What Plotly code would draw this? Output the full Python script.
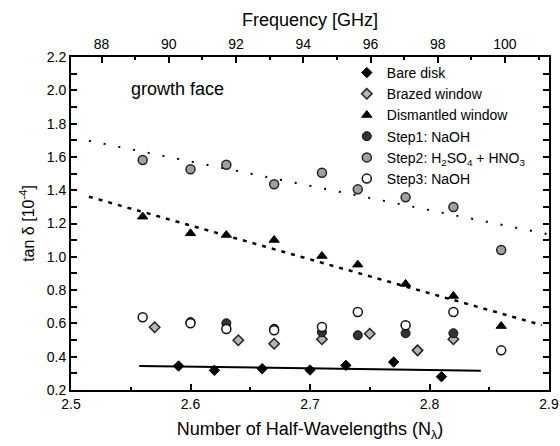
import plotly.graph_objects as go

# ---- data ----
bare_N = [2.59, 2.62, 2.66, 2.70, 2.73, 2.77, 2.81]
bare_v = [0.344, 0.318, 0.328, 0.320, 0.348, 0.368, 0.280]

brazed_N = [2.57, 2.64, 2.67, 2.71, 2.75, 2.79, 2.82]
brazed_v = [0.577, 0.499, 0.478, 0.505, 0.538, 0.438, 0.505]

dism_N = [2.56, 2.60, 2.63, 2.67, 2.71, 2.74, 2.78, 2.82, 2.86]
dism_v = [1.241, 1.141, 1.131, 1.101, 1.005, 0.953, 0.837, 0.765, 0.584]

step1_N = [2.60, 2.63, 2.67, 2.71, 2.74, 2.78, 2.82]
step1_v = [0.608, 0.601, 0.568, 0.547, 0.529, 0.541, 0.541]

step2_N = [2.56, 2.60, 2.63, 2.67, 2.71, 2.74, 2.78, 2.82, 2.86]
step2_v = [1.581, 1.526, 1.553, 1.436, 1.505, 1.405, 1.357, 1.299, 1.041]

step3_N = [2.56, 2.60, 2.63, 2.67, 2.71, 2.74, 2.78, 2.82, 2.86]
step3_v = [0.637, 0.601, 0.566, 0.559, 0.578, 0.668, 0.589, 0.668, 0.438]

# fitted trend lines (end points)
bare_fit_N = [2.557, 2.843]
bare_fit_v = [0.344, 0.316]
dism_fit_N = [2.515, 2.894]
dism_fit_v = [1.361, 0.590]
step2_fit_N = [2.515, 2.898]
step2_fit_v = [1.697, 1.137]

freq_ticks = [88, 90, 92, 94, 96, 98, 100]
freq_range = [87.09, 101.31]

FONT = "Arial, 'Liberation Sans', sans-serif"

fig = go.Figure()

# trend lines
fig.add_trace(go.Scatter(x=bare_fit_N, y=bare_fit_v, mode="lines",
                         line=dict(color="black", width=2), showlegend=False, hoverinfo="skip"))
fig.add_trace(go.Scatter(x=dism_fit_N, y=dism_fit_v, mode="lines",
                         line=dict(color="black", width=2.5, dash="4px,6px"), showlegend=False, hoverinfo="skip"))
fig.add_trace(go.Scatter(x=step2_fit_N, y=step2_fit_v, mode="lines",
                         line=dict(color="black", width=2, dash="2px,13px"), showlegend=False, hoverinfo="skip"))

fig.add_trace(go.Scatter(x=bare_N, y=bare_v, mode="markers", name="Bare disk",
                         marker=dict(symbol="diamond", size=8, color="black",
                                     line=dict(color="black", width=1))))
fig.add_trace(go.Scatter(x=brazed_N, y=brazed_v, mode="markers", name="Brazed window",
                         marker=dict(symbol="diamond", size=8, color="#b4b4b4",
                                     line=dict(color="#222", width=1.5))))
fig.add_trace(go.Scatter(x=dism_N, y=dism_v, mode="markers", name="Dismantled window",
                         marker=dict(symbol="triangle-up", size=9, color="black",
                                     line=dict(color="black", width=1))))
fig.add_trace(go.Scatter(x=step1_N, y=step1_v, mode="markers", name="Step1: NaOH",
                         marker=dict(symbol="circle", size=9, color="#333333",
                                     line=dict(color="#111", width=1))))
fig.add_trace(go.Scatter(x=step2_N, y=step2_v, mode="markers",
                         name="Step2: H<sub>2</sub>SO<sub>4</sub> + HNO<sub>3</sub>",
                         marker=dict(symbol="circle", size=9, color="#a0a0a0",
                                     line=dict(color="#222", width=1.5))))
fig.add_trace(go.Scatter(x=step3_N, y=step3_v, mode="markers", name="Step3: NaOH",
                         marker=dict(symbol="circle", size=9, color="white",
                                     line=dict(color="#111", width=1.5))))

# helper (invisible) trace for the top frequency axis
fig.add_trace(go.Scatter(x=freq_ticks, y=[None] * len(freq_ticks), xaxis="x2", yaxis="y",
                         mode="markers", showlegend=False, hoverinfo="skip",
                         marker=dict(opacity=0)))

fig.add_annotation(text="growth face", x=0.122, y=0.905, xref="paper", yref="paper",
                   xanchor="left", yanchor="middle", showarrow=False,
                   font=dict(family=FONT, size=18, color="black"))

fig.update_layout(
    width=560, height=446,
    margin=dict(l=71, r=11, t=57, b=56, autoexpand=False),
    paper_bgcolor="white", plot_bgcolor="white",
    font=dict(family=FONT, size=14, color="black"),
    xaxis=dict(range=[2.5, 2.9], tickvals=[2.5, 2.6, 2.7, 2.8, 2.9], ticktext=["2.5", "2.6", "2.7", "2.8", "2.9"],
               ticks="inside", ticklen=6, tickwidth=2, tickcolor="black",
               minor=dict(dtick=0.05, tick0=2.5, ticks="inside", ticklen=3, tickwidth=2, tickcolor="black"),
               showline=True, linewidth=2, linecolor="black", mirror=False,
               showgrid=False, zeroline=False,
               title=dict(text="Number of Half-Wavelengths (N<sub>λ</sub>)", font=dict(size=18), standoff=12)),
    xaxis2=dict(range=freq_range, overlaying="x", side="top", anchor="y",
                tickvals=freq_ticks, ticks="inside", ticklen=6, tickwidth=2, tickcolor="black",
                minor=dict(dtick=1, tick0=87, ticks="inside", ticklen=3, tickwidth=2, tickcolor="black"),
                showline=True, linewidth=2, linecolor="black",
                showgrid=False, zeroline=False,
                title=dict(text="Frequency [GHz]", font=dict(size=18), standoff=5)),
    yaxis=dict(range=[0.2, 2.2], dtick=0.2, tick0=0.2, tickformat=".1f",
               ticks="inside", ticklen=6, tickwidth=2, tickcolor="black",
               minor=dict(dtick=0.1, tick0=0.2, ticks="inside", ticklen=3, tickwidth=2, tickcolor="black"),
               showline=True, linewidth=2, linecolor="black", mirror="allticks",
               showgrid=False, zeroline=False,
               title=dict(text="tan δ [10<sup>-4</sup>]", font=dict(size=16), standoff=8)),
    legend=dict(x=0.577, y=1.0, xanchor="left", yanchor="top",
                bgcolor="rgba(0,0,0,0)", borderwidth=0,
                font=dict(family=FONT, size=14), tracegroupgap=0, itemwidth=30),
    showlegend=True,
)

fig.write_html("out.html")
